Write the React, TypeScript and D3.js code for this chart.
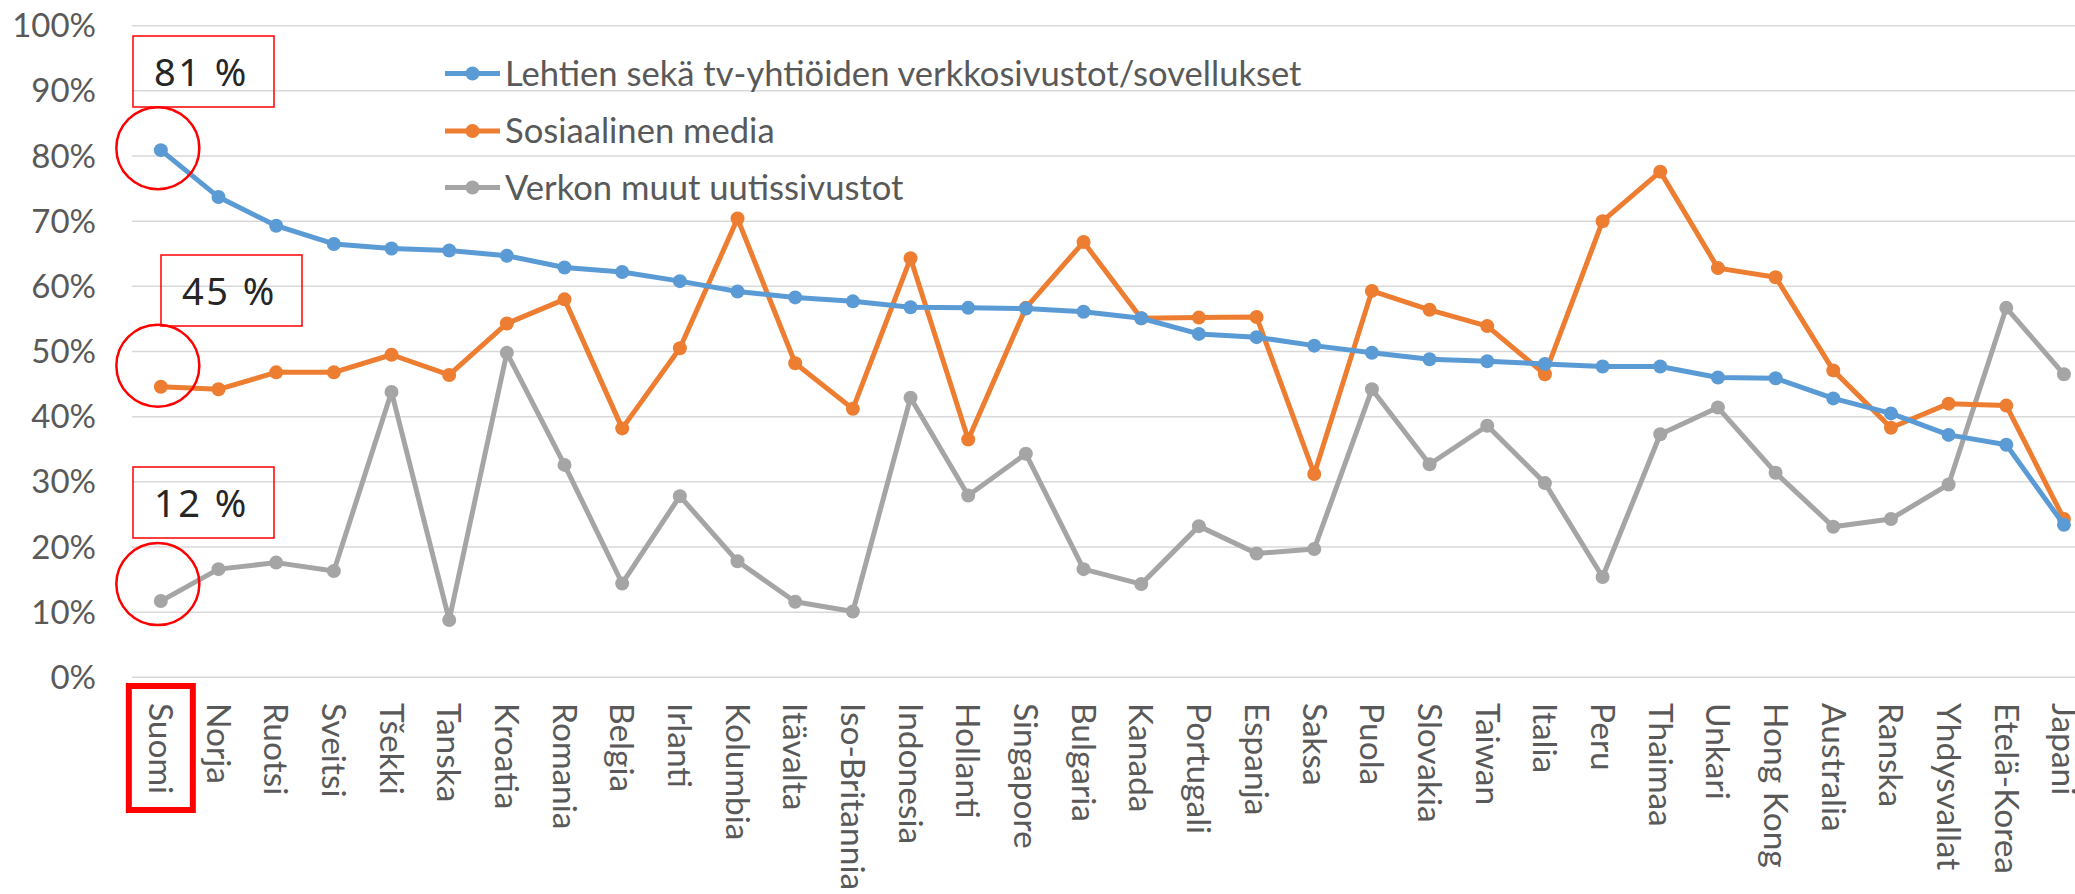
import { useEffect, useRef } from 'react';
import * as d3 from 'd3';

const countries = [
  'Suomi', 'Norja', 'Ruotsi', 'Sveitsi', 'Tšekki', 'Tanska', 'Kroatia', 'Romania', 'Belgia', 'Irlanti',
  'Kolumbia', 'Itävalta', 'Iso-Britannia', 'Indonesia', 'Hollanti', 'Singapore', 'Bulgaria', 'Kanada',
  'Portugali', 'Espanja', 'Saksa', 'Puola', 'Slovakia', 'Taiwan', 'Italia', 'Peru', 'Thaimaa', 'Unkari',
  'Hong Kong', 'Australia', 'Ranska', 'Yhdysvallat', 'Etelä-Korea', 'Japani',
];

const newsSites = [
  80.9, 73.7, 69.3, 66.5, 65.8, 65.5, 64.7, 62.9, 62.2, 60.8, 59.2, 58.3, 57.7, 56.8, 56.7, 56.6, 56.1,
  55.1, 52.7, 52.2, 50.9, 49.8, 48.8, 48.5, 48.1, 47.7, 47.7, 46.0, 45.9, 42.8, 40.5, 37.2, 35.7, 23.4,
];
const socialMedia = [
  44.6, 44.2, 46.8, 46.8, 49.5, 46.4, 54.3, 58.0, 38.2, 50.5, 70.4, 48.2, 41.2, 64.3, 36.5, 56.7, 66.8,
  55.1, 55.2, 55.3, 31.2, 59.3, 56.4, 53.9, 46.5, 70.0, 77.6, 62.8, 61.4, 47.1, 38.3, 42.0, 41.7, 24.3,
];
const otherSites = [
  11.7, 16.6, 17.6, 16.3, 43.8, 8.8, 49.8, 32.6, 14.4, 27.8, 17.8, 11.6, 10.1, 42.9, 27.9, 34.3, 16.6,
  14.3, 23.2, 19.0, 19.7, 44.2, 32.7, 38.6, 29.8, 15.4, 37.3, 41.4, 31.4, 23.1, 24.3, 29.6, 56.7, 46.5,
];

const seriesNames = [
  'Lehtien sekä tv-yhtiöiden verkkosivustot/sovellukset',
  'Sosiaalinen media',
  'Verkon muut uutissivustot',
];
const seriesColors = ['#5B9BD5', '#ED7D31', '#A5A5A5'];
const yTicks = [0, 10, 20, 30, 40, 50, 60, 70, 80, 90, 100];

const W = 2075;
const H = 894;
const FONT = 'Lato, "Open Sans", sans-serif';

const App = () => {
  const svgRef = useRef<SVGSVGElement>(null);

  useEffect(() => {
    document.body.style.margin = '0';
    const svg = d3.select(svgRef.current);
    svg.selectAll('*').remove();

    const left = 132;
    const band = 57.67;
    const x = d3.scaleBand().domain(countries).range([left, left + band * countries.length]);
    const cx = (c: string) => (x(c) || 0) + x.bandwidth() / 2;
    const y = d3.scaleLinear().domain([0, 100]).range([677.3, 25.7]);

    // gridlines + y labels
    const grid = svg.append('g');
    grid.selectAll('line')
      .data(yTicks)
      .join('line')
      .attr('x1', left)
      .attr('x2', W)
      .attr('y1', d => y(d))
      .attr('y2', d => y(d))
      .attr('stroke', '#D9D9D9')
      .attr('stroke-width', 1.5);

    grid.selectAll('text')
      .data(yTicks)
      .join('text')
      .attr('x', 96)
      .attr('y', d => y(d))
      .attr('dy', '0.35em')
      .attr('text-anchor', 'end')
      .style('font-family', FONT)
      .style('font-size', '33px')
      .attr('fill', '#595959')
      .text(d => `${d}%`);

    // x labels, rotated
    svg.append('g')
      .selectAll('text')
      .data(countries)
      .join('text')
      .attr('transform', d => `translate(${cx(d)},703) rotate(90)`)
      .attr('dy', '0.35em')
      .style('font-family', FONT)
      .style('font-size', '33.5px')
      .attr('fill', '#595959')
      .text(d => d);

    const all = [newsSites, socialMedia, otherSites];
    const line = d3.line<number>()
      .x((d, i) => cx(countries[i]))
      .y(d => y(d));

    // grey first, blue on top
    [2, 1, 0].forEach(s => {
      const g = svg.append('g');
      g.append('path')
        .datum(all[s])
        .attr('d', line)
        .attr('fill', 'none')
        .attr('stroke', seriesColors[s])
        .attr('stroke-width', 5)
        .attr('stroke-linejoin', 'round');
      g.selectAll('circle')
        .data(all[s])
        .join('circle')
        .attr('cx', (d, i) => cx(countries[i]))
        .attr('cy', d => y(d))
        .attr('r', 7)
        .attr('fill', seriesColors[s]);
    });

    // legend
    const legend = svg.append('g');
    const rows = [73.5, 131, 187.5];
    seriesNames.forEach((name, i) => {
      const r = legend.append('g').attr('transform', `translate(445,${rows[i]})`);
      r.append('line').attr('x1', 0).attr('x2', 55).attr('stroke', seriesColors[i]).attr('stroke-width', 5);
      r.append('circle').attr('cx', 27.5).attr('r', 7).attr('fill', seriesColors[i]);
      r.append('text')
        .attr('x', 60)
        .attr('dy', '0.35em')
        .style('font-family', FONT)
        .style('font-size', '34.6px')
        .attr('fill', '#595959')
        .text(name);
    });

    // annotations on Suomi
    const notes = [
      { v: newsSites[0], cdy: -2, bx: 133, by: 36 },
      { v: socialMedia[0], cdy: -21, bx: 161, by: 255 },
      { v: otherSites[0], cdy: -17, bx: 133, by: 467 },
    ];
    const ann = svg.append('g');
    const x0 = cx(countries[0]);
    notes.forEach(n => {
      ann.append('ellipse')
        .attr('cx', x0 - 3)
        .attr('cy', y(n.v) + n.cdy)
        .attr('rx', 41.5)
        .attr('ry', 41)
        .attr('fill', 'none')
        .attr('stroke', '#FF0000')
        .attr('stroke-width', 2.5);
      ann.append('rect')
        .attr('x', n.bx)
        .attr('y', n.by)
        .attr('width', 141)
        .attr('height', 71)
        .attr('fill', 'none')
        .attr('stroke', '#FF0000')
        .attr('stroke-width', 1.5);
      ann.append('text')
        .attr('x', n.bx + 21)
        .attr('y', n.by + 50)
        .style('font-family', '"Noto Sans", sans-serif')
        .style('font-size', '38px')
        .style('letter-spacing', '2.5px')
        .attr('fill', '#262626')
        .text(`${Math.round(n.v)} %`);
    });

    // highlight box on the first category label
    ann.append('rect')
      .attr('x', x0 - 32)
      .attr('y', 686)
      .attr('width', 64)
      .attr('height', 124)
      .attr('fill', 'none')
      .attr('stroke', '#FF0000')
      .attr('stroke-width', 6);
  }, []);

  return <svg ref={svgRef} width={W} height={H} style={{ display: 'block', background: '#fff' }} />;
};

export default App;
